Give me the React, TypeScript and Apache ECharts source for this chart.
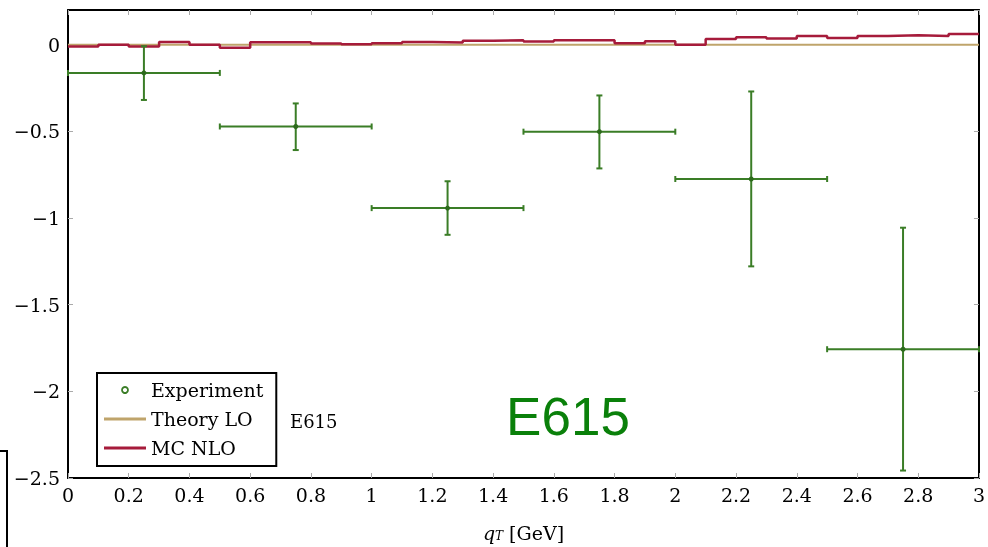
import React, { useEffect, useRef } from "react";
import * as echarts from "echarts";

// ---- data ----
const expX = [0.25, 0.75, 1.25, 1.75, 2.25, 2.75];
const expXErr = [0.25, 0.25, 0.25, 0.25, 0.25, 0.25];
const expY = [-0.163, -0.472, -0.943, -0.502, -0.775, -1.757];
const expLow = [-0.319, -0.608, -1.097, -0.714, -1.279, -2.457];
const expHigh = [-0.009, -0.339, -0.788, -0.293, -0.27, -1.056];

const binWidth = 0.1;
const mcNlo = [
  -0.01, 0.0, -0.01, 0.016, 0.0, -0.018, 0.014, 0.014, 0.007, 0.002,
  0.008, 0.016, 0.012, 0.022, 0.026, 0.018, 0.026, 0.026, 0.008, 0.02,
  0.0, 0.033, 0.043, 0.035, 0.05, 0.039, 0.05, 0.054, 0.05, 0.062,
];
const theoryLoX = [0, 3];
const theoryLo = [0, 0];

const xTicks = { min: 0, max: 3, interval: 0.2 };
const yTicks = { min: -2.5, max: 0.2, interval: 0.5 };

const GREEN = "#3a7d26";
const TAN = "#bfa46b";
const RED = "#a61b3b";
const SERIF = "DejaVu Serif";
const LINE_ICON = "path://M0,0H42V3H0Z";

export default function App() {
  const ref = useRef<HTMLDivElement>(null);
  useEffect(() => {
    if (!ref.current) return;
    const chart = echarts.init(ref.current, undefined, { renderer: "svg" });

    const mcData: number[][] = mcNlo.map((v, i) => [+(i * binWidth).toFixed(2), v]);
    mcData.push([+(mcNlo.length * binWidth).toFixed(2), mcNlo[mcNlo.length - 1]]);

    const expData = expX.map((x, i) => [x, expY[i], expLow[i], expHigh[i], expXErr[i]]);

    const axisLabelX = {
      fontFamily: SERIF,
      fontSize: 19,
      color: "#000",
      margin: 7,
      showMaxLabel: true,
      formatter: (v: number) => String(+v.toFixed(1)),
    };
    const axisLabelY = {
      fontFamily: SERIF,
      fontSize: 19,
      color: "#000",
      margin: 8,
      showMaxLabel: false,
      formatter: (v: number) => (v < 0 ? "\u2212" + String(+Math.abs(v).toFixed(1)) : String(+v.toFixed(1))),
    };
    const line = { show: true, onZero: false, lineStyle: { color: "#000", width: 2 } };
    const tick = { show: true, inside: true, length: 5, lineStyle: { color: "#aaa", width: 1 } };

    chart.setOption({
      animation: false,
      grid: { left: 68, right: 8, top: 10, bottom: 65, containLabel: false },
      legend: {
        orient: "vertical",
        left: 97,
        top: 373,
        selectedMode: false,
        backgroundColor: "#fff",
        borderColor: "#000",
        borderWidth: 2,
        borderRadius: 0,
        padding: [7, 13, 8, 7],
        itemWidth: 42,
        itemHeight: 6,
        itemGap: 9,
        textStyle: { fontFamily: SERIF, fontSize: 19, color: "#000", lineHeight: 20 },
        data: [
          { name: "Experiment", icon: "circle", itemStyle: { color: "#fff", borderColor: GREEN, borderWidth: 1.8 } },
          { name: "Theory LO", icon: LINE_ICON, itemStyle: { color: TAN } },
          { name: "MC NLO", icon: LINE_ICON, itemStyle: { color: RED } },
        ],
      },
      xAxis: [
        {
          type: "value",
          position: "bottom",
          min: xTicks.min,
          max: xTicks.max,
          interval: xTicks.interval,
          axisLine: line,
          axisTick: tick,
          axisLabel: axisLabelX,
          splitLine: { show: false },
          name: "{q|q}{t|T}{g| [GeV]}",
          nameLocation: "middle",
          nameGap: 34,
          nameTextStyle: {
            rich: {
              q: { fontFamily: SERIF, fontStyle: "italic", fontSize: 19, color: "#000", lineHeight: 30, verticalAlign: "bottom" },
              t: { fontFamily: SERIF, fontStyle: "italic", fontSize: 12, color: "#000", lineHeight: 12, verticalAlign: "bottom" },
              g: { fontFamily: SERIF, fontSize: 19, color: "#000", lineHeight: 30, verticalAlign: "bottom" },
            },
          },
        },
        {
          type: "value",
          position: "top",
          min: xTicks.min,
          max: xTicks.max,
          interval: xTicks.interval,
          axisLine: line,
          axisTick: tick,
          axisLabel: { show: false },
          splitLine: { show: false },
        },
      ],
      yAxis: [
        {
          type: "value",
          position: "left",
          min: yTicks.min,
          max: yTicks.max,
          interval: yTicks.interval,
          axisLine: line,
          axisTick: tick,
          axisLabel: axisLabelY,
          splitLine: { show: false },
        },
        {
          type: "value",
          position: "right",
          min: yTicks.min,
          max: yTicks.max,
          interval: yTicks.interval,
          axisLine: line,
          axisTick: tick,
          axisLabel: { show: false },
          splitLine: { show: false },
        },
      ],
      series: [
        {
          name: "Theory LO",
          type: "line",
          data: theoryLoX.map((x, i) => [x, theoryLo[i]]),
          symbol: "none",
          lineStyle: { color: TAN, width: 2 },
          itemStyle: { color: TAN },
          z: 3,
        },
        {
          name: "MC NLO",
          type: "line",
          step: "end",
          data: mcData,
          symbol: "none",
          lineStyle: { color: RED, width: 2.5 },
          itemStyle: { color: RED },
          z: 4,
        },
        {
          name: "Experiment",
          type: "custom",
          data: expData,
          encode: { x: 0, y: [1, 2, 3] },
          itemStyle: { color: GREEN },
          z: 5,
          renderItem: (params: any, api: any) => {
            const x = api.value(0);
            const y = api.value(1);
            const lo = api.value(2);
            const hi = api.value(3);
            const xe = api.value(4);
            const c = api.coord([x, y]);
            const l = api.coord([x - xe, y]);
            const r = api.coord([x + xe, y]);
            const t = api.coord([x, hi]);
            const b = api.coord([x, lo]);
            const st = { stroke: GREEN, lineWidth: 2 };
            const cap = 3;
            return {
              type: "group",
              children: [
                { type: "line", shape: { x1: l[0], y1: l[1], x2: r[0], y2: r[1] }, style: st },
                { type: "line", shape: { x1: t[0], y1: t[1], x2: b[0], y2: b[1] }, style: st },
                { type: "line", shape: { x1: t[0] - cap, y1: t[1], x2: t[0] + cap, y2: t[1] }, style: st },
                { type: "line", shape: { x1: b[0] - cap, y1: b[1], x2: b[0] + cap, y2: b[1] }, style: st },
                { type: "line", shape: { x1: l[0], y1: l[1] - cap, x2: l[0], y2: l[1] + cap }, style: st },
                { type: "line", shape: { x1: r[0], y1: r[1] - cap, x2: r[0], y2: r[1] + cap }, style: st },
                { type: "circle", shape: { cx: c[0], cy: c[1], r: 2.5 }, style: { fill: "#2d6a1c" } },
              ],
            };
          },
        },
      ],
      graphic: [
        {
          type: "text",
          left: 290,
          top: 412,
          style: { text: "E615", fontFamily: SERIF, fontSize: 18, fill: "#000" },
        },
        {
          type: "text",
          x: 568,
          y: 416,
          style: {
            text: "E615",
            fontFamily: "Liberation Sans",
            fontSize: 53,
            fill: "#0a800a",
            align: "center",
            verticalAlign: "middle",
          },
        },
        { type: "line", shape: { x1: 0, y1: 451, x2: 8, y2: 451 }, style: { stroke: "#000", lineWidth: 2 } },
        { type: "line", shape: { x1: 7, y1: 450, x2: 7, y2: 547 }, style: { stroke: "#000", lineWidth: 2 } },
      ],
    });
    return () => chart.dispose();
  }, []);
  return (
    <div
      ref={ref}
      style={{ position: "fixed", left: 0, top: 0, width: 988, height: 547 }}
    />
  );
}
